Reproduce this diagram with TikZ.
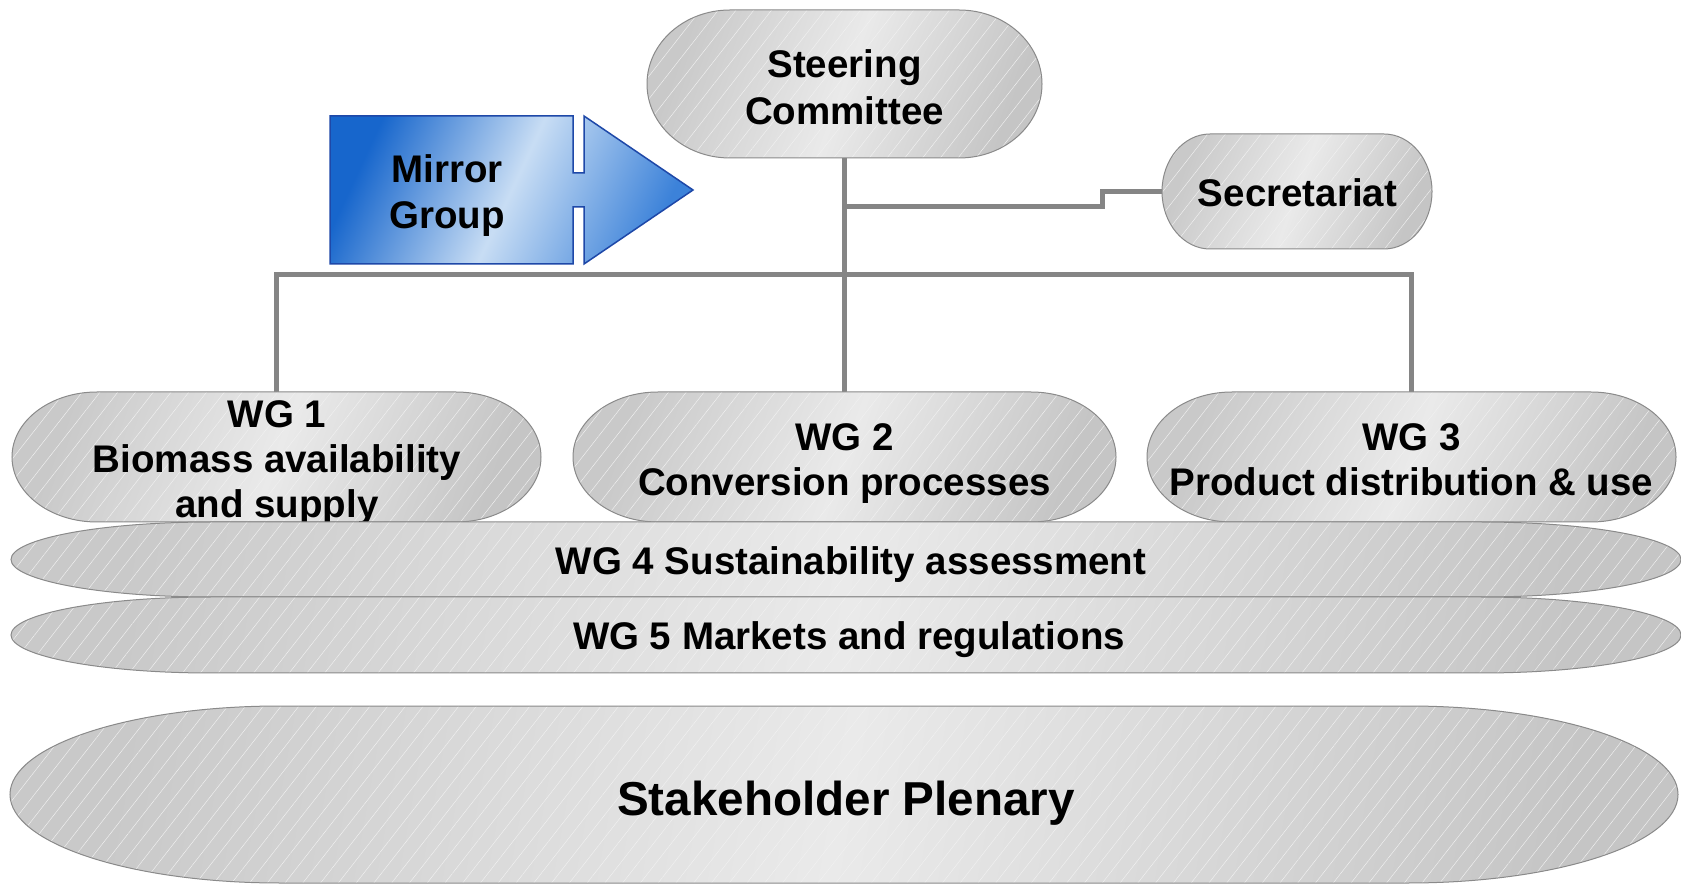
\documentclass[tikz,border=0pt]{standalone}
\usepackage{fontspec}
\setmainfont{Liberation Sans}
\usetikzlibrary{patterns.meta}
\definecolor{conn}{HTML}{858585}
\definecolor{edge}{HTML}{8A8A8A}
\definecolor{gEdge}{HTML}{C9C9C9}
\definecolor{gEdgeR}{HTML}{C5C5C5}
\definecolor{gMid}{HTML}{EAEAEA}
\definecolor{hatch}{HTML}{F1F1F1}
\definecolor{mgDark}{HTML}{1766CC}
\definecolor{mgLight}{HTML}{C8DDF4}
\definecolor{mgDarkR}{HTML}{3C82D9}
\definecolor{mgEdge}{HTML}{1E48A8}
\newcommand{\capsule}[4]{%
  \path[#4] ([xshift=#2]#1.north west) -- ([xshift=-#2]#1.north east)
    arc[start angle=90,end angle=0,x radius=#2,y radius=#3]
    -- ([yshift=#3]#1.south east)
    arc[start angle=0,end angle=-90,x radius=#2,y radius=#3]
    -- ([xshift=#2]#1.south west)
    arc[start angle=-90,end angle=-180,x radius=#2,y radius=#3]
    -- ([yshift=-#3]#1.north west)
    arc[start angle=180,end angle=90,x radius=#2,y radius=#3]
    -- cycle;}
\begin{document}
\begin{tikzpicture}[x=1pt,y=1pt,
  boxnode/.style={inner sep=0pt,outer sep=0pt,draw=none},
  gcaps/.style={preaction={left color=gEdge,right color=gEdgeR,middle color=gMid,shading angle=#1},
    pattern={Lines[angle=52,distance=14pt,line width=0.45pt]},pattern color=hatch,
    draw=edge,line width=1pt},
  connector/.style={draw=conn,line width=5pt,line join=miter},
  lbl/.style={font=\fontsize{38.5}{45}\selectfont\bfseries,align=center,inner sep=0pt,text=black},
  biglbl/.style={font=\fontsize{47.6}{55}\selectfont\bfseries,align=center,inner sep=0pt,text=black}]
\useasboundingbox (0,0) rectangle (1681,884);
\fill[white] (0,0) rectangle (1681,884);

% anchor boxes
\node[boxnode,minimum width=395pt,minimum height=148pt] (sc) at (844.5,800) {};
\node[boxnode,minimum width=270pt,minimum height=115pt] (sec) at (1297,692.5) {};
\node[boxnode,minimum width=529pt,minimum height=130pt] (wg1) at (276.5,427) {};
\node[boxnode,minimum width=543pt,minimum height=130pt] (wg2) at (844.5,427) {};
\node[boxnode,minimum width=529pt,minimum height=130pt] (wg3) at (1411.5,427) {};
\node[boxnode,minimum width=1670pt,minimum height=75pt] (wg4) at (846,324.5) {};
\node[boxnode,minimum width=1670pt,minimum height=76pt] (wg5) at (846,249) {};
\node[boxnode,minimum width=1668pt,minimum height=177pt] (sp) at (844,89.5) {};
\coordinate (bar) at (844.5,609);
\coordinate (stp) at (1102,677);

% connectors
\draw[connector] (sc.south) -- (wg2.north);
\draw[connector] (wg1.north) |- (wg3.north |- bar) -- (wg3.north);
\draw[connector] (sc.south |- stp) -| (stp |- sec.west) -- (sec.west);

% steering committee
\capsule{sc}{83pt}{74pt}{gcaps=70}
\node[lbl,font=\fontsize{38.5}{47}\selectfont\bfseries] (sct) at (844.5,796.5) {Steering\\Committee};

% secretariat
\capsule{sec}{48pt}{57.5pt}{gcaps=70}
\node[lbl] (sect) at (1297.5,691) {Secretariat};

% mirror group
\path[draw=mgEdge,line width=1.5pt,left color=mgDark,right color=mgDarkR,middle color=mgLight,shading angle=65]
  (330,768) -- (573,768) -- (573,711) -- (584,711) -- (584,768) -- (693,694)
  -- (584,620) -- (584,677) -- (573,677) -- (573,620) -- (330,620) -- cycle;
\node[lbl,font=\fontsize{38.5}{46}\selectfont\bfseries] (mg) at (447,688) {Mirror\\Group};

% working groups
\capsule{wg1}{85pt}{65pt}{gcaps=70}
\node[lbl] (wg1t) at (277,421) {WG 1\\Biomass availability\\and supply};
\capsule{wg2}{85pt}{65pt}{gcaps=70}
\node[lbl] (wg2t) at (844.5,420.5) {WG 2\\Conversion processes};
\capsule{wg3}{85pt}{65pt}{gcaps=70}
\node[lbl] (wg3t) at (1411.5,424) {WG 3\\Product distribution \& use};

% bands
\capsule{wg4}{200pt}{37.5pt}{gcaps=80}
\node[lbl,anchor=base] (wg4t) at (851,309) {WG 4 Sustainability assessment};
\capsule{wg5}{200pt}{38pt}{gcaps=80}
\node[lbl,anchor=base] (wg5t) at (849,234) {WG 5 Markets and regulations};

% stakeholder plenary
\capsule{sp}{270pt}{88.5pt}{gcaps=80}
\node[biglbl,anchor=base] (spt) at (846,69) {Stakeholder Plenary};
\end{tikzpicture}
\end{document}
